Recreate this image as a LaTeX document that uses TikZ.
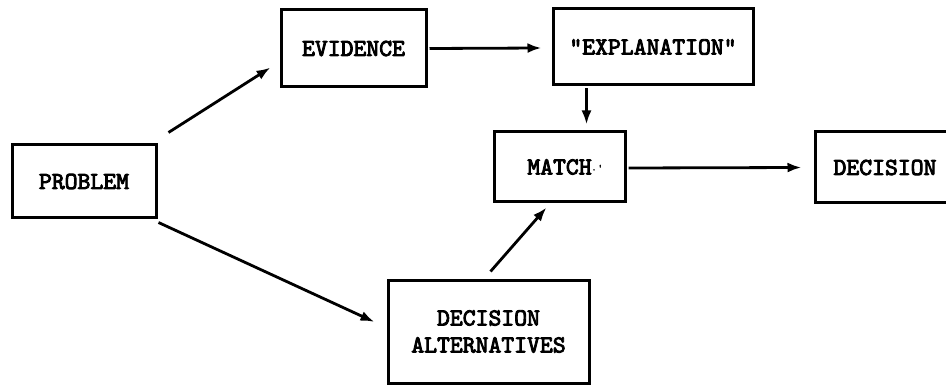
\documentclass[tikz,border=0pt]{standalone}
\usepackage{fontspec}
\newfontfamily\tw{lmmono10-regular.otf}[FakeBold=3.5]
\usetikzlibrary{arrows.meta}
\tikzset{
  box/.style={draw, line width=3pt, inner sep=0pt, font=\tw\fontsize{24.5}{27}\selectfont, align=center},
  arr/.style={line width=2.8pt, -{Latex[length=14pt,width=10pt]}}
}
\begin{document}
\begin{tikzpicture}[x=1pt,y=-1pt]
\useasboundingbox (0,0) rectangle (946,385);
\clip (0,0) rectangle (946,385);
\fill[white] (0,0) rectangle (946,385);
\node[box, minimum width=144pt, minimum height=73pt] (prob) at (84,181.5) {PROBLEM};
\node[box, minimum width=145pt, minimum height=77pt] (evid) at (353.5,48.5) {EVIDENCE};
\node[box, minimum width=200pt, minimum height=76pt] (expl) at (653,47) {"EXPLANATION"};
\node[box, minimum width=131pt, minimum height=70pt] (match) at (559.5,167) {MATCH\rlap{\fontsize{9}{9}\selectfont\raisebox{4pt}{.\,'}}};
\node[box, minimum width=140pt, minimum height=71pt] (dec) at (885,167.5) {DECISION};
\node[box, minimum width=201pt, minimum height=103pt] (alt) at (488.5,331.5) {DECISION\\ALTERNATIVES};
\draw[arr] ([shift={(11,-11)}]prob.north east) -- ([shift={(-9,-21)}]evid.south west);
\draw[arr] ([shift={(2,0)}]evid.east) -- ([shift={(-10,1)}]expl.west);
\draw[arr] ([shift={(35,2)}]expl.south west) -- ([shift={(94,-6)}]match.north west);
\draw[arr] ([shift={(2,1)}]match.east) -- ([shift={(-12,0)}]dec.west);
\draw[arr] ([shift={(104,-7)}]alt.north west) -- ([shift={(54,4)}]match.south west);
\draw[arr] ([shift={(1,3)}]prob.south east) -- ([shift={(-12,-9.5)}]alt.west);
\end{tikzpicture}
\end{document}
